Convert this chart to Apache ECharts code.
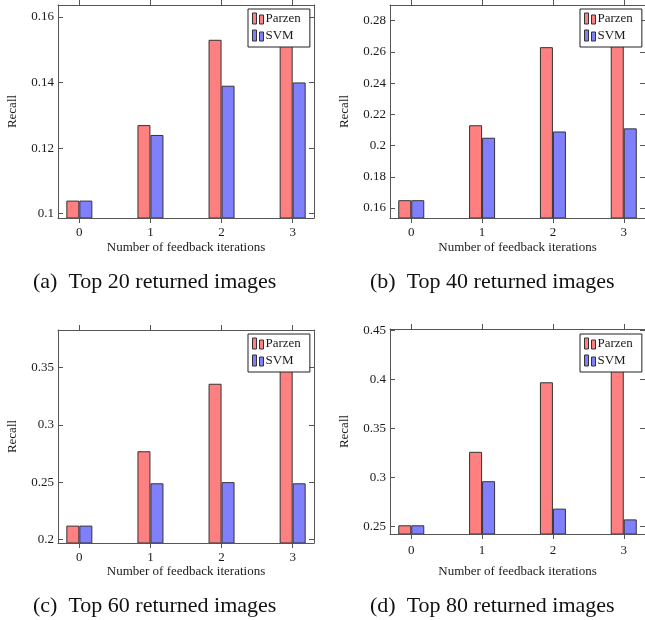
<!DOCTYPE html>
<html>
<head>
<meta charset="utf-8">
<title>Recall vs. feedback iterations</title>
<script src="https://cdn.jsdelivr.net/npm/echarts@6/dist/echarts.min.js"></script>
<style>
  html, body { margin: 0; padding: 0; background: #fff; }
  #chart { width: 645px; height: 620px; }
</style>
</head>
<body>
<div id="chart"></div>
<script>
// Feedback iteration indices on the x axis
const iterations = [0, 1, 2, 3];

// Recall for the top-N returned images, per method
const parzenTop20 = [0.104, 0.127, 0.153, 0.156];
const svmTop20    = [0.104, 0.124, 0.139, 0.140];
const parzenTop40 = [0.165, 0.213, 0.263, 0.275];
const svmTop40    = [0.165, 0.205, 0.209, 0.211];
const parzenTop60 = [0.212, 0.277, 0.336, 0.362];
const svmTop60    = [0.212, 0.249, 0.250, 0.249];
const parzenTop80 = [0.251, 0.326, 0.397, 0.418];
const svmTop80    = [0.251, 0.296, 0.268, 0.257];

// Y tick values for each panel
const yTicks20 = [0.10, 0.12, 0.14, 0.16];
const yTicks40 = [0.16, 0.18, 0.20, 0.22, 0.24, 0.26, 0.28];
const yTicks60 = [0.20, 0.25, 0.30, 0.35];
const yTicks80 = [0.25, 0.30, 0.35, 0.40, 0.45];

const seriesNames = ['Parzen', 'SVM'];
const captions = [
  '(a)  Top 20 returned images',
  '(b)  Top 40 returned images',
  '(c)  Top 60 returned images',
  '(d)  Top 80 returned images'
];
const xTitle = 'Number of feedback iterations';
const yTitle = 'Recall';

const SERIF = '"Liberation Serif", "DejaVu Serif", serif';
const FRAME = '#555';
const TEXT = '#1a1a1a';

// Panel layout: plot box, value range, label spacing, legend and caption spots
const panels = [
  { grid: { left: 58, top: 5, width: 256, height: 213 },
    yMin: 0.0987, yMax: 0.1636, ticks: yTicks20, parzen: parzenTop20, svm: svmTop20,
    labelMargin: 8, nameGap: 23, legend: { left: 248, top: 9 }, caption: { left: 33, top: 271 } },
  { grid: { left: 390, top: 5, width: 256, height: 213 },
    yMin: 0.1536, yMax: 0.2900, ticks: yTicks40, parzen: parzenTop40, svm: svmTop40,
    labelMargin: 8, nameGap: 23, legend: { left: 580, top: 9 }, caption: { left: 370, top: 271 } },
  { grid: { left: 58, top: 330, width: 256, height: 213 },
    yMin: 0.1968, yMax: 0.3830, ticks: yTicks60, parzen: parzenTop60, svm: svmTop60,
    labelMargin: 8, nameGap: 22, legend: { left: 248, top: 334 }, caption: { left: 33, top: 595 } },
  { grid: { left: 390, top: 329, width: 256, height: 205 },
    yMin: 0.2421, yMax: 0.4514, ticks: yTicks80, parzen: parzenTop80, svm: svmTop80,
    labelMargin: 10, nameGap: 31, legend: { left: 580, top: 334 }, caption: { left: 370, top: 595 } }
];

const grid = [], xAxis = [], yAxis = [], series = [], legend = [], graphic = [];

panels.forEach(function (p, i) {
  grid.push(Object.assign({ containLabel: false }, p.grid));

  const tickStyle = { lineStyle: { color: FRAME, width: 1 } };
  const lineStyle = { show: true, onZero: false, lineStyle: { color: FRAME, width: 1 } };

  // bottom x axis with labels and title
  xAxis.push({
    type: 'value', gridIndex: i, min: -0.3, max: 3.3, position: 'bottom', z: 3,
    splitLine: { show: false }, axisLine: lineStyle,
    axisTick: Object.assign({ show: true, inside: false, length: 5, customValues: iterations }, tickStyle),
    axisLabel: { show: true, customValues: iterations, margin: p.labelMargin,
      fontFamily: SERIF, fontSize: 13, color: TEXT },
    name: xTitle, nameLocation: 'middle', nameGap: p.nameGap,
    nameTextStyle: { fontFamily: SERIF, fontSize: 13, color: TEXT }
  });
  // top x axis: ticks only
  xAxis.push({
    type: 'value', gridIndex: i, min: -0.3, max: 3.3, position: 'top', z: 3,
    splitLine: { show: false }, axisLine: lineStyle,
    axisTick: Object.assign({ show: true, inside: false, length: 5, customValues: iterations }, tickStyle),
    axisLabel: { show: false }
  });
  // left y axis with labels and title
  yAxis.push({
    type: 'value', gridIndex: i, min: p.yMin, max: p.yMax, position: 'left', z: 3,
    splitLine: { show: false }, axisLine: lineStyle,
    axisTick: Object.assign({ show: true, inside: true, length: 5, customValues: p.ticks }, tickStyle),
    axisLabel: { show: true, customValues: p.ticks, margin: 4,
      fontFamily: SERIF, fontSize: 13, color: TEXT,
      formatter: function (v) { return String(+v.toFixed(2)); } },
    name: yTitle, nameLocation: 'middle', nameGap: 39,
    nameTextStyle: { fontFamily: SERIF, fontSize: 13, color: TEXT }
  });
  // right y axis: ticks only
  yAxis.push({
    type: 'value', gridIndex: i, min: p.yMin, max: p.yMax, position: 'right', z: 3,
    splitLine: { show: false }, axisLine: lineStyle,
    axisTick: Object.assign({ show: true, inside: true, length: 5, customValues: p.ticks }, tickStyle),
    axisLabel: { show: false }
  });

  const colors = ['#FF8080', '#8080FF'];
  [p.parzen, p.svm].forEach(function (vals, k) {
    series.push({
      type: 'bar', name: seriesNames[k],
      xAxisIndex: i * 2, yAxisIndex: i * 2,
      barWidth: 13, barGap: '0%',
      itemStyle: { color: colors[k], borderColor: '#333', borderWidth: 1 },
      data: iterations.map(function (x, j) { return [x, vals[j]]; })
    });
  });

  legend.push({
    data: seriesNames, orient: 'vertical',
    left: p.legend.left, top: p.legend.top,
    icon: 'path://M0,0h4v11h-4zM7,2h4v9h-4z',
    itemWidth: 11, itemHeight: 11, itemGap: 4,
    padding: [3, 9, 5, 4],
    backgroundColor: '#fff', borderColor: '#222', borderWidth: 1, borderRadius: 0,
    itemStyle: { borderColor: '#333', borderWidth: 1 },
    textStyle: { fontFamily: SERIF, fontSize: 13, color: TEXT, padding: [0, 0, 0, -3] },
    selectedMode: false, z: 10
  });

  graphic.push({
    type: 'text', left: p.caption.left, top: p.caption.top,
    style: { text: captions[i], font: '22px ' + SERIF, fill: '#111' }
  });
});

const chart = echarts.init(document.getElementById('chart'), null, { renderer: 'canvas' });
chart.setOption({
  animation: false,
  backgroundColor: '#fff',
  grid: grid, xAxis: xAxis, yAxis: yAxis, series: series,
  legend: legend, graphic: graphic
});
</script>
</body>
</html>
